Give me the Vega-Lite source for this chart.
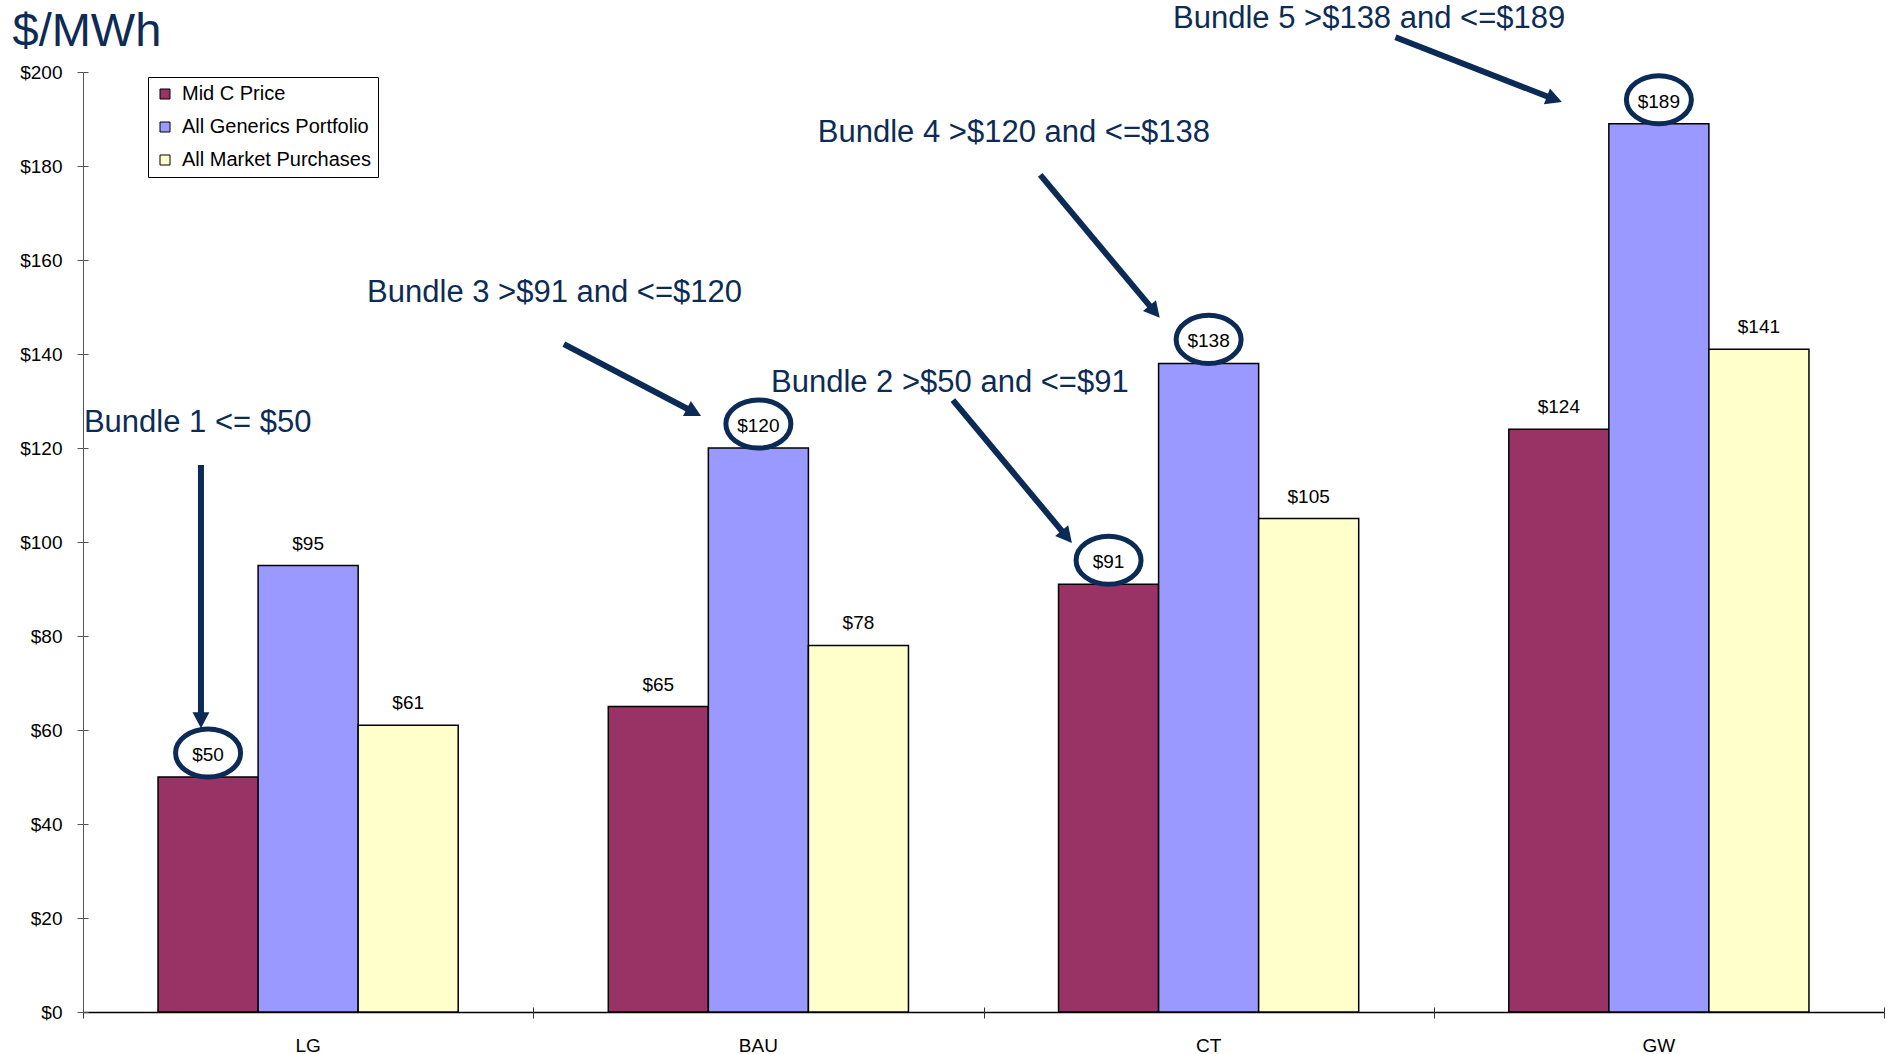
{
  "$schema": "https://vega.github.io/schema/vega-lite/v6.json",
  "width": 1801,
  "height": 940,
  "autosize": {"type": "none"},
  "padding": {"left": 83, "top": 72, "right": 7, "bottom": 42},
  "background": "white",
  "config": {
    "font": "Liberation Sans",
    "view": {"stroke": null},
    "axis": {"grid": false}
  },
  "datasets": {
    "prices": [
      {"scenario": "LG", "series": "Mid C Price", "value": 50, "bundle": 1},
      {"scenario": "LG", "series": "All Generics Portfolio", "value": 95},
      {"scenario": "LG", "series": "All Market Purchases", "value": 61},
      {"scenario": "BAU", "series": "Mid C Price", "value": 65},
      {"scenario": "BAU", "series": "All Generics Portfolio", "value": 120, "bundle": 3},
      {"scenario": "BAU", "series": "All Market Purchases", "value": 78},
      {"scenario": "CT", "series": "Mid C Price", "value": 91, "bundle": 2},
      {"scenario": "CT", "series": "All Generics Portfolio", "value": 138, "bundle": 4},
      {"scenario": "CT", "series": "All Market Purchases", "value": 105},
      {"scenario": "GW", "series": "Mid C Price", "value": 124},
      {"scenario": "GW", "series": "All Generics Portfolio", "value": 189, "bundle": 5},
      {"scenario": "GW", "series": "All Market Purchases", "value": 141}
    ],
    "bundles": [
      {"bundle": 1, "label": "Bundle 1 <= $50", "tx": 0.002, "ty": 123.4, "ax": 0.262, "ay": 116.4, "hx": 0.262, "hy": 62.1, "heading": 180},
      {"bundle": 2, "label": "Bundle 2 >$50 and <=$91", "tx": 1.528, "ty": 131.9, "ax": 1.932, "ay": 130.2, "hx": 2.185, "hy": 101.1, "heading": 140.2},
      {"bundle": 3, "label": "Bundle 3 >$91 and <=$120", "tx": 0.631, "ty": 151.1, "ax": 1.068, "ay": 142.1, "hx": 1.357, "hy": 127.6, "heading": 117.7},
      {"bundle": 4, "label": "Bundle 4 >$120 and <=$138", "tx": 1.632, "ty": 185.1, "ax": 2.126, "ay": 178.1, "hx": 2.38, "hy": 149.0, "heading": 140.2},
      {"bundle": 5, "label": "Bundle 5 >$138 and <=$189", "tx": 2.421, "ty": 209.4, "ax": 2.915, "ay": 207.4, "hx": 3.268, "hy": 194.2, "heading": 110.8}
    ]
  },
  "layer": [
    {
      "data": {"name": "prices"},
      "encoding": {
        "x": {
          "field": "scenario",
          "type": "nominal",
          "sort": ["LG", "BAU", "CT", "GW"],
          "scale": {"paddingInner": 0.33333, "paddingOuter": 0.16667},
          "axis": {
            "title": null,
            "labelAngle": 0,
            "labelFontSize": 19,
            "labelColor": "black",
            "labelPadding": 24,
            "ticks": false,
            "domainColor": "black",
            "domainWidth": 1.5
          }
        },
        "xOffset": {
          "field": "series",
          "type": "nominal",
          "sort": ["Mid C Price", "All Generics Portfolio", "All Market Purchases"],
          "scale": {"paddingInner": 0, "paddingOuter": 0}
        },
        "y": {
          "field": "value",
          "type": "quantitative",
          "scale": {"domain": [0, 200], "nice": false},
          "axis": {
            "title": "$/MWh",
            "titleAngle": 0,
            "titleAlign": "left",
            "titleBaseline": "alphabetic",
            "titleX": -71,
            "titleY": -27,
            "titleFontSize": 47,
            "titleFontWeight": "normal",
            "titleColor": "#0c2b55",
            "values": [0, 20, 40, 60, 80, 100, 120, 140, 160, 180, 200],
            "format": "$.0f",
            "labelFontSize": 19,
            "labelColor": "black",
            "labelPadding": 21,
            "ticks": false,
            "domainColor": "#555555"
          }
        }
      },
      "layer": [
        {
          "mark": {"type": "bar", "stroke": "black", "strokeWidth": 1.5},
          "encoding": {
            "color": {
              "field": "series",
              "type": "nominal",
              "scale": {
                "domain": ["Mid C Price", "All Generics Portfolio", "All Market Purchases"],
                "range": ["#993366", "#9999FF", "#FFFFCC"]
              },
              "legend": {
                "orient": "none",
                "legendX": 65,
                "legendY": 5,
                "title": null,
                "strokeColor": "black",
                "fillColor": "white",
                "padding": 7,
                "symbolType": "square",
                "symbolSize": 100,
                "symbolStrokeColor": "black",
                "symbolStrokeWidth": 1,
                "symbolOpacity": 1,
                "labelFontSize": 20,
                "labelColor": "black",
                "labelLimit": 0,
                "labelOffset": 7,
                "rowPadding": 13
              }
            }
          }
        },
        {
          "mark": {"type": "text", "fontSize": 19, "dy": -16, "baseline": "alphabetic", "color": "black"},
          "encoding": {"text": {"field": "value", "type": "quantitative", "format": "$.0f"}}
        },
        {
          "transform": [{"filter": "isValid(datum.bundle)"}],
          "mark": {
            "type": "point",
            "shape": "M-1,0 A1,0.74 0 1,1 1,0 A1,0.74 0 1,1 -1,0 Z",
            "size": 4225,
            "filled": false,
            "stroke": "#0b2a55",
            "strokeWidth": 5,
            "opacity": 1,
            "yOffset": -24
          }
        }
      ]
    },
    {
      "data": {"name": "bundles"},
      "layer": [
        {
          "mark": {"type": "rule", "strokeWidth": 6, "color": "#0b2a55", "strokeCap": "butt"},
          "encoding": {
            "x": {
              "field": "ax", "type": "quantitative",
              "scale": {"domain": [0, 4], "nice": false, "zero": false},
              "axis": {"orient": "bottom", "title": null, "labels": false, "domain": false, "grid": false, "values": [0, 1, 2, 3, 4], "offset": -5, "tickSize": 11, "tickColor": "#333333"}
            },
            "y": {
              "field": "ay", "type": "quantitative",
              "scale": {"domain": [0, 200], "nice": false},
              "axis": {"orient": "left", "title": null, "labels": false, "domain": false, "grid": false, "values": [0, 20, 40, 60, 80, 100, 120, 140, 160, 180, 200], "offset": -5, "tickSize": 11, "tickColor": "#555555"}
            },
            "x2": {"field": "hx"},
            "y2": {"field": "hy"}
          }
        },
        {
          "mark": {
            "type": "point",
            "shape": "M0,-1 L1.06,1 L-1.06,1 Z",
            "size": 256,
            "filled": true,
            "color": "#0b2a55",
            "strokeWidth": 0,
            "opacity": 1
          },
          "encoding": {
            "x": {"field": "hx", "type": "quantitative", "scale": {"domain": [0, 4], "nice": false, "zero": false}, "axis": {"orient": "bottom", "title": null, "labels": false, "domain": false, "grid": false, "values": [0, 1, 2, 3, 4], "offset": -5, "tickSize": 11, "tickColor": "#333333"}},
            "y": {"field": "hy", "type": "quantitative", "scale": {"domain": [0, 200], "nice": false}, "axis": {"orient": "left", "title": null, "labels": false, "domain": false, "grid": false, "values": [0, 20, 40, 60, 80, 100, 120, 140, 160, 180, 200], "offset": -5, "tickSize": 11, "tickColor": "#555555"}},
            "angle": {"field": "heading", "type": "quantitative", "scale": null}
          }
        },
        {
          "mark": {"type": "text", "fontSize": 31, "align": "left", "baseline": "alphabetic", "color": "#0c2b55"},
          "encoding": {
            "x": {"field": "tx", "type": "quantitative", "scale": {"domain": [0, 4], "nice": false, "zero": false}, "axis": {"orient": "bottom", "title": null, "labels": false, "domain": false, "grid": false, "values": [0, 1, 2, 3, 4], "offset": -5, "tickSize": 11, "tickColor": "#333333"}},
            "y": {"field": "ty", "type": "quantitative", "scale": {"domain": [0, 200], "nice": false}, "axis": {"orient": "left", "title": null, "labels": false, "domain": false, "grid": false, "values": [0, 20, 40, 60, 80, 100, 120, 140, 160, 180, 200], "offset": -5, "tickSize": 11, "tickColor": "#555555"}},
            "text": {"field": "label"}
          }
        }
      ]
    }
  ],
  "resolve": {
    "scale": {"x": "independent", "y": "independent"},
    "axis": {"x": "independent", "y": "independent"}
  }
}
